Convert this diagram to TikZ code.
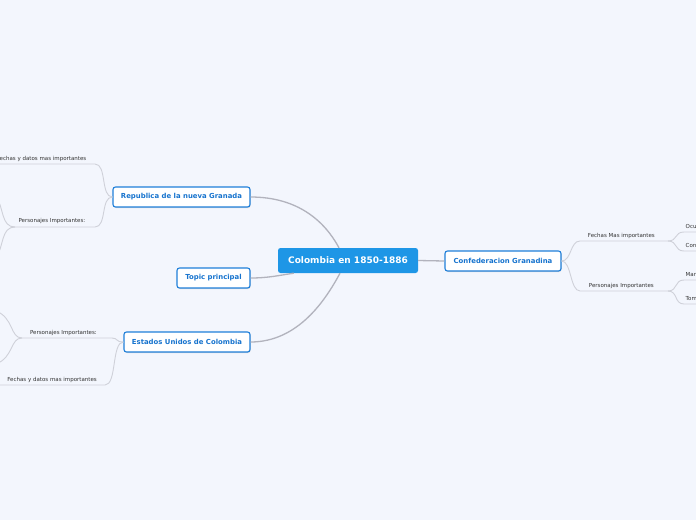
\documentclass[tikz,border=0pt]{standalone}
\usepackage{fontspec}
\setmainfont{DejaVu Sans}
\usetikzlibrary{shadows}
\definecolor{bg}{HTML}{F3F6FD}
\definecolor{mainblue}{HTML}{1E96E6}
\definecolor{nodeblue}{HTML}{1F7FD9}
\definecolor{txtblue}{HTML}{1673CE}
\definecolor{conncol}{HTML}{B2B3BD}
\definecolor{subcol}{HTML}{CFD1D9}
\definecolor{labeltxt}{HTML}{333333}
\begin{document}
\begin{tikzpicture}[x=1pt,y=-1pt,
 mainnode/.style={fill=mainblue, rounded corners=2.5pt, text=white,
   font=\fontsize{9}{10}\selectfont\bfseries, minimum width=140pt,
   minimum height=25pt, inner sep=0pt},
 topicnode/.style={draw=nodeblue, line width=1.1pt, fill=white, rounded corners=2.5pt,
   text=txtblue, font=\fontsize{6.9}{8}\selectfont\bfseries, minimum height=20pt,
   inner sep=0pt, drop shadow={shadow xshift=0.6pt, shadow yshift=-1pt, opacity=0.25}},
 sublabel/.style={font=\fontsize{5.5}{6.5}\selectfont, text=labeltxt, inner sep=0pt, anchor=base east},
 mainconn/.style={draw=conncol, line width=1.3pt},
 subconn/.style={draw=subcol, line width=0.9pt}
]
\useasboundingbox (0,0) rectangle (696,520);
\fill[bg] (0,0) rectangle (696,520);
\clip (0,0) rectangle (696,520);

% main nodes
\node[mainnode] (c) at (348,260.5) {Colombia en 1850-1886};
\node[topicnode, minimum width=116pt] (conf) at (503,261) {Confederacion Granadina};
\node[topicnode, minimum width=137pt] (rep) at (181.5,197) {Republica de la nueva Granada};
\node[topicnode, minimum width=73pt] (top) at (213.5,278) {Topic principal};
\node[topicnode, minimum width=126pt] (est) at (187,342) {Estados Unidos de Colombia};

% labels
\node[sublabel] (repf) at (86.5,160) {Fechas y datos mas importantes};
\node[sublabel] (repp) at (85.5,222.5) {Personajes Importantes:};
\node[sublabel] (estp) at (97,334) {Personajes Importantes:};
\node[sublabel] (estf) at (97,381) {Fechas y datos mas importantes};
\node[sublabel] (conff) at (655,237) {Fechas Mas importantes};
\node[sublabel] (confp) at (654,287) {Personajes Importantes};
\node[sublabel, anchor=base west] (ocu) at (685.5,228) {Ocu};
\node[sublabel, anchor=base west] (con) at (685.5,247) {Con};
\node[sublabel, anchor=base west] (mar) at (685.5,276) {Mar};
\node[sublabel, anchor=base west] (tom) at (685.5,300) {Tom};

% coordinates for underline ends
\coordinate (repfA) at (95,164);   \coordinate (repfB) at (-10,164);
\coordinate (reppA) at (95,227);   \coordinate (reppB) at (15,227);
\coordinate (estpA) at (112,338);  \coordinate (estpB) at (22,338);
\coordinate (estfA) at (105,385);  \coordinate (estfB) at (-10,385);
\coordinate (conffA) at (580,241); \coordinate (conffB) at (668,241);
\coordinate (confpA) at (580,291); \coordinate (confpB) at (668,291);
\coordinate (ocuA) at (684,232);   \coordinate (ocuB) at (700,232);
\coordinate (conA) at (684,251);   \coordinate (conB) at (700,251);
\coordinate (marA) at (684,280);   \coordinate (marB) at (700,280);
\coordinate (tomA) at (684,304);   \coordinate (tomB) at (700,304);
\coordinate (rp1) at (-4,196);     \coordinate (rp2) at (-4,258);
\coordinate (ep1) at (-4,311);     \coordinate (ep2) at (-4,364);

% main connectors
\draw[mainconn] (rep.east) .. controls +(48,0) and +(-14,-26) .. ([xshift=-9pt]c.north);
\draw[mainconn] (est.east) .. controls +(48,0) and +(-14,26) .. ([xshift=-8pt]c.south);
\draw[mainconn] (top.east) .. controls +(18,0) and +(-14,2) .. ([xshift=16pt]c.south west);
\draw[mainconn] (c.east) -- (conf.west);

% sub connectors
\draw[subconn] (rep.west) .. controls +(-12,0) and +(12,0) .. (repfA) -- (repfB);
\draw[subconn] (rep.west) .. controls +(-12,0) and +(12,0) .. (reppA) -- (reppB);
\draw[subconn] (est.west) .. controls +(-8,0) and +(6,0) .. (estpA) -- (estpB);
\draw[subconn] (est.west) .. controls +(-12,0) and +(12,0) .. (estfA) -- (estfB);
\draw[subconn] (conf.east) .. controls +(10,0) and +(-10,0) .. (conffA) -- (conffB);
\draw[subconn] (conf.east) .. controls +(10,0) and +(-10,0) .. (confpA) -- (confpB);

\draw[subconn] (reppB) .. controls (1,227) and (4,208) .. (rp1);
\draw[subconn] (reppB) .. controls (1,227) and (4,246) .. (rp2);
\draw[subconn] (estpB) .. controls (10,338) and (14,318) .. (ep1);
\draw[subconn] (estpB) .. controls (10,338) and (14,357) .. (ep2);

\draw[subconn] (conffB) .. controls +(10,0) and +(-10,0) .. (ocuA) -- (ocuB);
\draw[subconn] (conffB) .. controls +(10,0) and +(-10,0) .. (conA) -- (conB);
\draw[subconn] (confpB) .. controls +(10,0) and +(-10,0) .. (marA) -- (marB);
\draw[subconn] (confpB) .. controls +(10,0) and +(-10,0) .. (tomA) -- (tomB);
\end{tikzpicture}
\end{document}
